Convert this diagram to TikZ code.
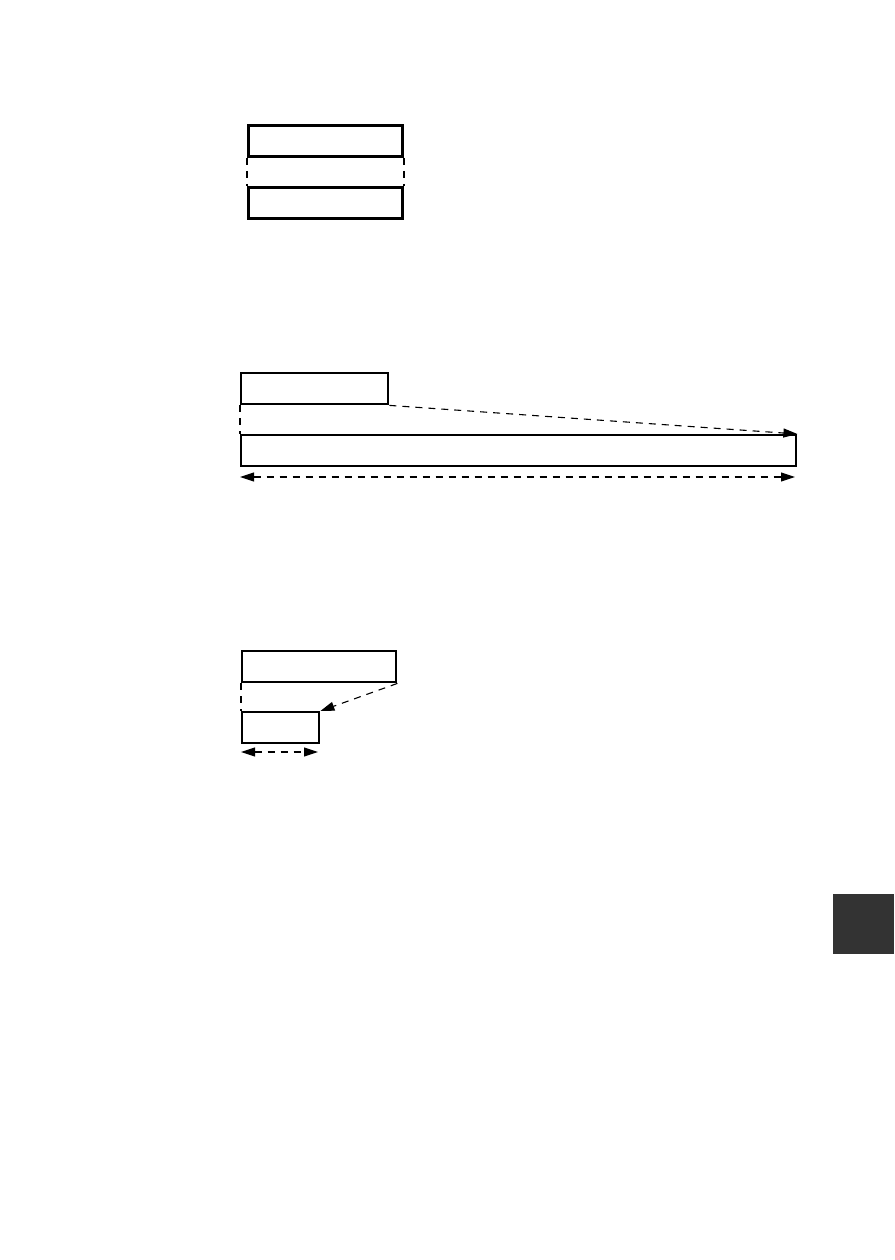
\documentclass[tikz,border=0pt]{standalone}
\usetikzlibrary{arrows.meta}

\tikzset{
  bar/.style={draw, line width=2.4pt, inner sep=0pt, minimum height=31pt, anchor=north west},
  guide/.style={line width=1.1pt, dash pattern=on 7pt off 6pt},
  span/.style={guide, {Triangle[length=14pt,width=9pt]}-{Triangle[length=14pt,width=9pt]}},
  moveto/.style={guide, -{Triangle[length=14pt,width=9pt]}}
}

\begin{document}
\begin{tikzpicture}[x=1pt,y=-1pt]
    \useasboundingbox (0,0) rectangle (894,1260);
    % first pair
    \node[bar, minimum width=154pt, line width=3pt] (upA) at (247,124) {};
    \node[bar, minimum width=154pt, line width=3pt] (lowA) at (247,186) {};
    \draw[guide] (upA.south west) -- (lowA.north west);
    \draw[guide] (upA.south east) -- (lowA.north east);
    % stretched
    \node[bar, minimum width=147pt] (upB) at (240,372) {};
    \node[bar, minimum width=555pt] (lowB) at (240,434) {};
    \draw[guide] (upB.south west) -- (lowB.north west);
    \draw[moveto] (upB.south east) -- (lowB.north east);
    \coordinate (spanBl) at (240,477);
    \coordinate (spanBr) at (795,477);
    \draw[span] (spanBl) -- (spanBr);
    % shrunk
    \node[bar, minimum width=154pt] (upC) at (241,650) {};
    \node[bar, minimum width=77pt] (lowC) at (241,711) {};
    \draw[guide] (upC.south west) -- (lowC.north west);
    \draw[moveto] (upC.south east) -- (lowC.north east);
    \coordinate (spanCl) at (241,752);
    \coordinate (spanCr) at (318,752);
    \draw[span] (spanCl) -- (spanCr);
    % side tab
    \node[fill=black!80, inner sep=0pt, minimum width=61pt, minimum height=60pt, anchor=north west] (tab) at (833,894) {};
\end{tikzpicture}
\end{document}
